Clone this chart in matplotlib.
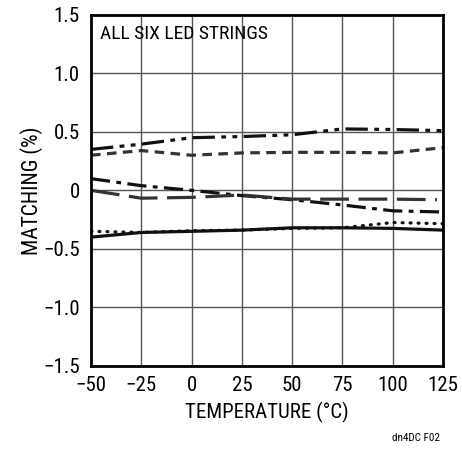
import matplotlib
matplotlib.use('Agg')
import matplotlib.pyplot as plt

plt.rcParams['font.family'] = ['Liberation Sans Narrow', 'Roboto Condensed', 'Roboto', 'DejaVu Sans']

temp = [-50, -25, 0, 25, 50, 75, 100, 125]
s_dashdotdot = [0.35, 0.395, 0.45, 0.46, 0.475, 0.525, 0.52, 0.51]
s_shortdash = [0.30, 0.34, 0.30, 0.32, 0.325, 0.325, 0.32, 0.365]
s_dashdot = [0.10, 0.04, 0.00, -0.045, -0.08, -0.125, -0.175, -0.185]
temp_long = [-50, -25, 0, 25, 50, 75, 100, 122]
s_longdash = [0.0, -0.067, -0.06, -0.04, -0.075, -0.075, -0.075, -0.08]
s_dotted = [-0.35, -0.36, -0.345, -0.34, -0.325, -0.32, -0.275, -0.285]
s_solid = [-0.40, -0.36, -0.35, -0.34, -0.32, -0.32, -0.325, -0.34]

xticks = [-50, -25, 0, 25, 50, 75, 100, 125]
xlabels = ['\u221250', '\u221225', '0', '25', '50', '75', '100', '125']
yticks = [-1.5, -1.0, -0.5, 0, 0.5, 1.0, 1.5]
ylabels = ['\u22121.5', '\u22121.0', '\u22120.5', '0', '0.5', '1.0', '1.5']

fig = plt.figure(figsize=(4.62, 4.50), dpi=100)
ax = fig.add_axes([0.197, 0.187, 0.762, 0.78])

lw = 2.3
ax.plot(temp, s_dashdotdot, color='#111111', lw=lw, dashes=(7, 2, 1.5, 2, 1.5, 2))
ax.plot(temp, s_shortdash, color='#333333', lw=lw, dashes=(3, 2))
ax.plot(temp, s_dashdot, color='#111111', lw=lw, dashes=(6, 2, 1.5, 2))
ax.plot(temp_long, s_longdash, color='#333333', lw=lw, dashes=(9, 3))
ax.plot(temp, s_dotted, color='#111111', lw=lw, dashes=(0.3, 2.2),
        dash_capstyle='round')
ax.plot(temp, s_solid, color='#111111', lw=lw)

ax.set_xlim(-50, 125)
ax.set_ylim(-1.5, 1.5)
ax.set_xticks(xticks)
ax.set_xticklabels(xlabels)
ax.set_yticks(yticks)
ax.set_yticklabels(ylabels)
ax.tick_params(length=0, labelsize=15)
ax.tick_params(axis='x', pad=7)
ax.tick_params(axis='y', pad=8)
ax.grid(True, color='#555555', lw=1)
ax.set_axisbelow(True)
for sp in ax.spines.values():
    sp.set_linewidth(2)
    sp.set_color('black')

ax.set_xlabel('TEMPERATURE (\u00b0C)', fontsize=15, labelpad=5)
ax.set_ylabel('MATCHING (%)', fontsize=15.5)
ax.yaxis.set_label_coords(-0.135, 0.5)
ax.text(0.025, 0.97, 'ALL SIX LED STRINGS', transform=ax.transAxes,
        fontsize=14, va='top', ha='left')
fig.text(0.953, 0.02, 'dn4DC F02', fontsize=8, ha='right')

fig.savefig('out.png', dpi=100)
